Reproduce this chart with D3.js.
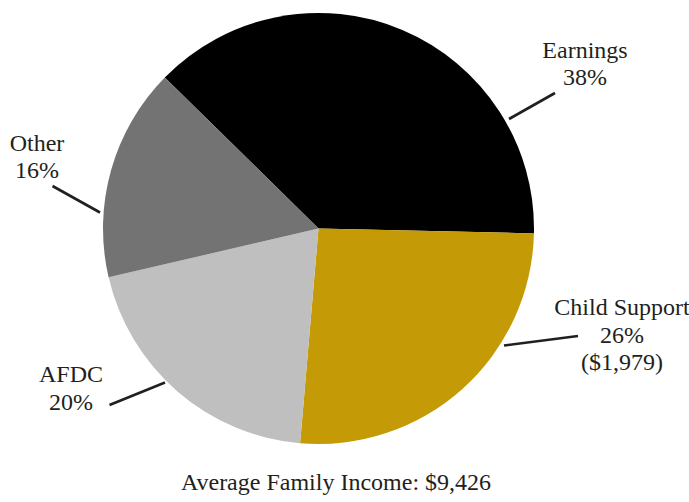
<!DOCTYPE html>
<html>
<head>
<meta charset="utf-8">
<script src="https://cdn.jsdelivr.net/npm/d3@7/dist/d3.min.js"></script>
<style>
  html, body { margin: 0; padding: 0; background: #fff; }
  svg { display: block; }
  text { font-family: "Liberation Serif", "Times New Roman", serif; fill: #231f20; }
</style>
</head>
<body>
<svg id="chart" width="689" height="502"></svg>
<script>
// Sources of average family income (percent of total)
const categories = ["Earnings", "Child Support", "AFDC", "Other"];
const shares = [38, 26, 20, 16];
const extraLines = ["", "($1,979)", "", ""];
const caption = "Average Family Income: $9,426";

const colors = ["#000000", "#c49a06", "#bfbfbf", "#737373"];

// Label placement: text anchor point (first baseline) and leader line ends
const labelLayout = [
  { x: 585, y: 57.5, line: [[509, 119], [555, 93]] },
  { x: 622, y: 315, line: [[504, 345.5], [578, 336]] },
  { x: 71,  y: 382, line: [[165, 382.5], [109.5, 405]] },
  { x: 37,  y: 150.5, line: [[100, 212.5], [52.5, 186]] }
];

const svg = d3.select("#chart");
const cx = 318.5, cy = 228.5, radius = 215.5;
const fontSize = 24;
const lineHeight = 27.5;

const pie = d3.pie()
  .sort(null)
  .value(d => d.value)
  .startAngle(-45.5 * Math.PI / 180)
  .endAngle((360 - 45.5) * Math.PI / 180);

const arc = d3.arc().innerRadius(0).outerRadius(radius);

const data = categories.map((c, i) => ({ name: c, value: shares[i], extra: extraLines[i], color: colors[i] }));

const g = svg.append("g").attr("transform", `translate(${cx},${cy})`);

g.selectAll("path.slice")
  .data(pie(data))
  .join("path")
  .attr("class", "slice")
  .attr("d", arc)
  .attr("fill", d => d.data.color);

// Leader lines
svg.selectAll("line.leader")
  .data(labelLayout)
  .join("line")
  .attr("class", "leader")
  .attr("x1", d => d.line[0][0])
  .attr("y1", d => d.line[0][1])
  .attr("x2", d => d.line[1][0])
  .attr("y2", d => d.line[1][1])
  .attr("stroke", "#231f20")
  .attr("stroke-width", 2.6);

// Slice labels
data.forEach((d, i) => {
  const pos = labelLayout[i];
  const lines = [d.name, d.value + "%"];
  if (d.extra) lines.push(d.extra);
  const t = svg.append("text")
    .attr("x", pos.x)
    .attr("y", pos.y)
    .attr("text-anchor", "middle")
    .attr("font-size", fontSize + "px");
  lines.forEach((s, k) => {
    t.append("tspan")
      .attr("x", pos.x)
      .attr("y", pos.y + k * lineHeight)
      .text(s);
  });
});

// Caption
svg.append("text")
  .attr("x", 336)
  .attr("y", 490)
  .attr("text-anchor", "middle")
  .attr("font-size", fontSize + "px")
  .text(caption);
</script>
</body>
</html>
